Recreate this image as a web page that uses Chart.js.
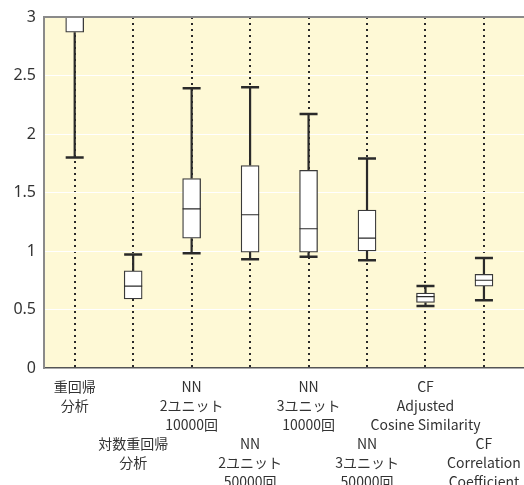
<!DOCTYPE html>
<html>
<head>
<meta charset="utf-8">
<script src="https://cdn.jsdelivr.net/npm/chart.js@4.4.0/dist/chart.umd.min.js"></script>
<style>
    html, body { margin: 0; padding: 0; background: #fff; }
    #wrap { width: 524px; height: 485px; }
</style>
</head>
<body>
<div id="wrap"><canvas id="chartBox"></canvas></div>
<script>
// カテゴリ（下段に表示するものは lowerRow=true）
var categories = [
    ['重回帰', '分析'],
    ['対数重回帰', '分析'],
    ['NN', '2ユニット', '10000回'],
    ['NN', '2ユニット', '50000回'],
    ['NN', '3ユニット', '10000回'],
    ['NN', '3ユニット', '50000回'],
    ['CF', 'Adjusted', 'Cosine Similarity'],
    ['CF', 'Correlation', 'Coefficient']
];
var lowerRow = [false, true, false, true, false, true, false, true];

// 箱ひげ図の値
var mins    = [1.80, 0.59, 0.98, 0.93, 0.95, 0.92, 0.53, 0.58];
var q1s     = [2.87, 0.59, 1.11, 0.99, 0.99, 1.00, 0.56, 0.70];
var medians = [3.10, 0.70, 1.36, 1.31, 1.19, 1.11, 0.61, 0.75];
var q3s     = [3.40, 0.83, 1.62, 1.73, 1.69, 1.35, 0.64, 0.80];
var maxs    = [4.00, 0.97, 2.39, 2.40, 2.17, 1.79, 0.70, 0.94];

var yMin = 0;
var yMax = 3;
var yStep = 0.5;

var boxHalf = 0.154;   // 箱の半幅（x軸の単位）
var capHalf = 0.154;

var boxData = [];
var stemData = [];
var capData = [];
var medianData = [];

categories.forEach(function (c, i) {
    var x = i + 1;
    boxData.push({ x: x, y: [q1s[i], q3s[i]] });

    stemData.push({ x: x, y: maxs[i] }, { x: x, y: q3s[i] }, { x: x, y: null });
    if (mins[i] < q1s[i]) {
        stemData.push({ x: x, y: q1s[i] }, { x: x, y: mins[i] }, { x: x, y: null });
    }

    capData.push({ x: x - capHalf, y: maxs[i] }, { x: x + capHalf, y: maxs[i] }, { x: x, y: null });
    if (mins[i] < q1s[i]) {
        capData.push({ x: x - capHalf, y: mins[i] }, { x: x + capHalf, y: mins[i] }, { x: x, y: null });
    }

    medianData.push({ x: x - boxHalf, y: medians[i] }, { x: x + boxHalf, y: medians[i] }, { x: x, y: null });
});

// 背景と上枠
var framePlugin = {
    id: 'frame',
    beforeDraw: function (chart) {
        var a = chart.chartArea;
        var ctx = chart.ctx;
        ctx.save();
        ctx.fillStyle = '#fef9d6';
        ctx.fillRect(a.left, a.top, a.right - a.left, a.bottom - a.top);
        ctx.restore();
    },
    afterDraw: function (chart) {
        var a = chart.chartArea;
        var ctx = chart.ctx;
        ctx.save();
        ctx.strokeStyle = '#8a8a8a';
        ctx.lineWidth = 2;
        ctx.beginPath();
        ctx.moveTo(a.left, a.top);
        ctx.lineTo(a.right, a.top);
        ctx.stroke();
        ctx.restore();
    }
};

var lineCommon = {
    type: 'line',
    borderColor: '#2a2a2a',
    pointRadius: 0,
    spanGaps: false,
    fill: false
};

var ctx = document.getElementById('chartBox').getContext('2d');
var chart = new Chart(ctx, {
    type: 'bar',
    data: {
        datasets: [
            Object.assign({}, lineCommon, { data: medianData, borderWidth: 1.2, order: 0 }),
            {
                type: 'bar',
                data: boxData,
                backgroundColor: '#ffffff',
                borderColor: '#3a3a3a',
                borderWidth: 1.3,
                borderSkipped: false,
                barThickness: 18,
                order: 1
            },
            Object.assign({}, lineCommon, { data: stemData, borderWidth: 2.2, order: 2 }),
            Object.assign({}, lineCommon, { data: capData, borderWidth: 2.5, order: 3 })
        ]
    },
    options: {
        responsive: true,
        maintainAspectRatio: false,
        animation: false,
        layout: { padding: { top: 17, right: 0, bottom: 0, left: 0 } },
        plugins: {
            legend: { display: false },
            tooltip: { enabled: false }
        },
        scales: {
            x: {
                type: 'linear',
                offset: false,
                min: 0.475,
                max: 8.685,
                afterBuildTicks: function (scale) {
                    scale.ticks = categories.map(function (c, i) { return { value: i + 1 }; });
                },
                afterFit: function (scale) {
                    scale.height = 117;
                    scale.paddingLeft = 0;
                    scale.paddingRight = 0;
                },
                ticks: {
                    autoSkip: false,
                    maxRotation: 0,
                    padding: 9,
                    color: '#333',
                    font: { family: '"Noto Sans CJK JP", "Noto Sans", sans-serif', size: 14, lineHeight: 1.36 },
                    callback: function (value) {
                        var i = Math.round(value) - 1;
                        if (!categories[i]) return '';
                        return lowerRow[i] ? ['', '', ''].concat(categories[i]) : categories[i];
                    }
                },
                grid: { offset: false, color: '#2a2a2a', lineWidth: 2, drawTicks: false },
                border: { color: '#555', width: 1.5, dash: [2, 4] }
            },
            y: {
                min: yMin,
                max: yMax,
                afterFit: function (scale) {
                    scale.width = 44;
                    scale.paddingTop = 0;
                    scale.paddingBottom = 0;
                },
                ticks: {
                    stepSize: yStep,
                    padding: 8,
                    color: '#333',
                    font: { family: '"Noto Sans", sans-serif', size: 16 },
                    callback: function (value) { return String(value); }
                },
                grid: {
                    drawTicks: false,
                    lineWidth: 1,
                    color: function (c) {
                        return (c.tick.value === yMin || c.tick.value === yMax) ? 'rgba(0,0,0,0)' : '#ffffff';
                    }
                },
                border: { color: '#8a8a8a', width: 2 }
            }
        }
    },
    plugins: [framePlugin]
});
</script>
</body>
</html>
